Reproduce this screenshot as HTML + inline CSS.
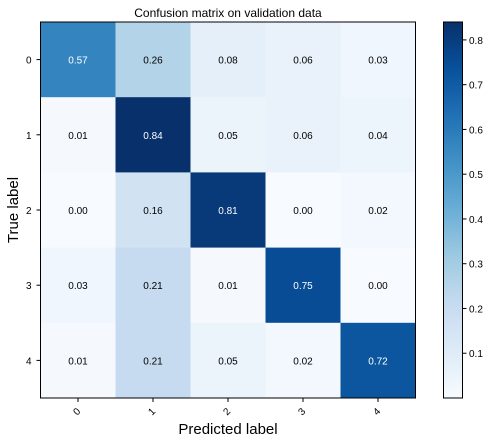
<!DOCTYPE html>
<html><head><meta charset="utf-8"><style>
body{margin:0;background:#fff;font-family:"Liberation Sans","DejaVu Sans",sans-serif}
svg{display:block}
</style></head><body>
<svg id="chart" width="491" height="443" xmlns="http://www.w3.org/2000/svg">
<defs>
<linearGradient id="cbg" x1="0" y1="1" x2="0" y2="0">
<stop offset="0" stop-color="#f7fbff"/><stop offset="0.125" stop-color="#deebf7"/><stop offset="0.25" stop-color="#c6dbef"/><stop offset="0.375" stop-color="#9ecae1"/><stop offset="0.5" stop-color="#6baed6"/><stop offset="0.625" stop-color="#4292c6"/><stop offset="0.75" stop-color="#2171b5"/><stop offset="0.875" stop-color="#08519c"/><stop offset="1" stop-color="#08306b"/>
</linearGradient>
</defs>
<text x="228" y="17" font-size="12" text-anchor="middle">Confusion matrix on validation data</text>
<text transform="translate(18,210) rotate(-90)" font-size="15" text-anchor="middle">True label</text>
<text x="228" y="434" font-size="15" text-anchor="middle">Predicted label</text>
<g id="cells"></g>
<rect x="40.5" y="22" width="375" height="376" fill="none" stroke="#000" stroke-width="1"/>
<g id="ticks"></g>
<rect x="443.5" y="22" width="19" height="376" fill="url(#cbg)" stroke="#000" stroke-width="1"/>
<g id="cbticks"></g>
</svg>
<script>
const labels = ["0","1","2","3","4"];
const matrix = [
[0.57,0.26,0.08,0.06,0.03],
[0.01,0.84,0.05,0.06,0.04],
[0.00,0.16,0.81,0.00,0.02],
[0.03,0.21,0.01,0.75,0.00],
[0.01,0.21,0.05,0.02,0.72]];
const cbTicks = [0.1,0.2,0.3,0.4,0.5,0.6,0.7,0.8];

const NS="http://www.w3.org/2000/svg";
const stops=["#f7fbff","#deebf7","#c6dbef","#9ecae1","#6baed6","#4292c6","#2171b5","#08519c","#08306b"].map(h=>[1,3,5].map(i=>parseInt(h.substr(i,2),16)));
const vmin=0, vmax=Math.max(...matrix.flat());
function color(v){let t=Math.max(0,Math.min(1,(v-vmin)/(vmax-vmin)))*8;let i=Math.min(7,Math.floor(t)),f=t-i;const c=stops[i].map((a,k)=>Math.round(a+(stops[i+1][k]-a)*f));return `rgb(${c})`;}
const X0=40.5,Y0=22,W=375,H=376,n=labels.length,cw=W/n,ch=H/n;
const xs=j=>X0+j*cw, ys=i=>Y0+i*ch;
function mk(tag,attrs,parent){const e=document.createElementNS(NS,tag);for(const k in attrs)e.setAttribute(k,attrs[k]);parent.appendChild(e);return e;}
const cells=document.getElementById('cells');
matrix.forEach((row,i)=>row.forEach((v,j)=>{
 const r=mk('rect',{x:xs(j),y:ys(i),width:cw+0.5,height:ch+0.5,fill:color(v)},cells);
 
 
 const t=mk('text',{x:xs(j)+cw/2,y:ys(i)+ch/2+4,'font-size':10,'text-anchor':'middle',fill:v>vmax/2?'#fff':'#000'},cells);
 t.textContent=v.toFixed(2);
 
 
}));
const tk=document.getElementById('ticks');
labels.forEach((l,i)=>{
 mk('line',{x1:X0-4,x2:X0,y1:ys(i)+ch/2,y2:ys(i)+ch/2,stroke:'#000'},tk);
 const t=mk('text',{x:X0-9,y:ys(i)+ch/2+4,'font-size':10,'text-anchor':'end'},tk);
 t.textContent=l;
 
 
 const cx=xs(i)+cw/2;
 mk('line',{x1:cx,x2:cx,y1:Y0+H,y2:Y0+H+4,stroke:'#000'},tk);
 const u=mk('text',{x:cx+3,y:Y0+H+14,'font-size':10,'text-anchor':'end',transform:`rotate(-45 ${cx+3} ${Y0+H+14})`},tk);
 u.textContent=l;
 
 
});
const cb=document.getElementById('cbticks');
cbTicks.forEach(v=>{
 const y=Y0+H-(v-vmin)/(vmax-vmin)*H;
 mk('line',{x1:462.5,x2:466.5,y1:y,y2:y,stroke:'#000'},cb);
 const t=mk('text',{x:469,y:y+4,'font-size':10},cb);
 t.textContent=v.toFixed(1);
 
 
});
</script>
</body></html>
